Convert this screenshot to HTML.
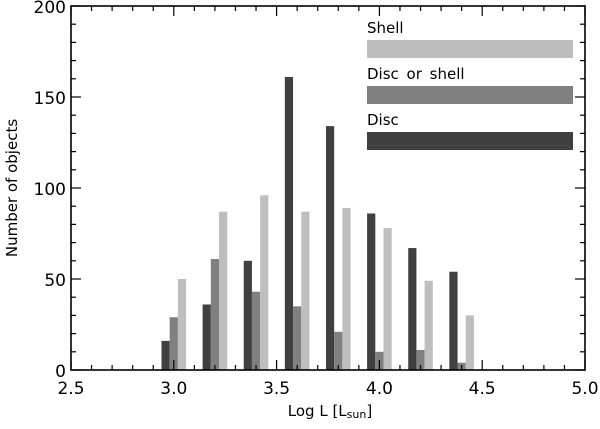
<!DOCTYPE html>
<html><head><meta charset="utf-8"><style>
body{margin:0;background:#fff;}
svg text{font-family:"DejaVu Sans","Liberation Sans",sans-serif;fill:#000;}
</style></head><body>
<svg id="chart" width="600" height="424" xmlns="http://www.w3.org/2000/svg"></svg>
<script>
const categories=[3.0,3.2,3.4,3.6,3.8,4.0,4.2,4.4];
const discValues=[16,36,60,161,134,86,67,54];
const discOrShellValues=[29,61,43,35,21,10,11,4];
const shellValues=[50,87,96,87,89,78,49,30];
const xTicks=["2.5","3.0","3.5","4.0","4.5","5.0"];
const yTicks=["0","50","100","150","200"];
const L=71,R=585,T=6,B=370;
const xs=v=>L+(v-2.5)/2.5*(R-L);
const ys=v=>B-v/200*(B-T);
const svg=document.getElementById('chart');
const NS='http://www.w3.org/2000/svg';
function mk(tag,attrs,parent){const e=document.createElementNS(NS,tag);for(const k in attrs)e.setAttribute(k,attrs[k]);(parent||svg).appendChild(e);return e;}
const bw=8.2;
const series=[[discValues,'#404040',-1,'disc'],[discOrShellValues,'#808080',0,'disc-or-shell'],[shellValues,'#bebebe',1,'shell']];
series.forEach(([vals,col,off,nm])=>{
  vals.forEach((v,i)=>{
    const cx=xs(categories[i])+off*bw;
    const r=mk('rect',{x:cx-bw/2,y:ys(v),width:bw,height:B-ys(v),fill:col});
    
    
  });
});
const f=mk('rect',{x:L,y:T,width:R-L,height:B-T,fill:'none',stroke:'#000','stroke-width':1.6});


for(let k=0;k<=25;k++){
  const v=2.5+k*0.1,x=xs(v),len=(k%5===0)?10:5;
  mk('line',{x1:x,y1:B,x2:x,y2:B-len,stroke:'#000','stroke-width':1.2});
  mk('line',{x1:x,y1:T,x2:x,y2:T+len,stroke:'#000','stroke-width':1.2});
}
xTicks.forEach(t=>{
  const e=mk('text',{x:xs(parseFloat(t)),y:B+24,'text-anchor':'middle','font-size':17});
  e.textContent=t;
  
  
});
for(let k=0;k<=20;k++){
  const v=k*10,y=ys(v),len=(k%5===0)?10:5;
  mk('line',{x1:L,y1:y,x2:L+len,y2:y,stroke:'#000','stroke-width':1.2});
  mk('line',{x1:R,y1:y,x2:R-len,y2:y,stroke:'#000','stroke-width':1.2});
}
yTicks.forEach(t=>{
  const e=mk('text',{x:L-5,y:ys(parseFloat(t))+7,'text-anchor':'end','font-size':17});
  e.textContent=t;
  
  
});
const xt=mk('text',{x:330,y:416,'text-anchor':'middle','font-size':15});
xt.innerHTML='Log L [L<tspan font-size="11" dy="2">sun</tspan><tspan dy="-2">]</tspan>';


const yt=mk('text',{x:17,y:188,'text-anchor':'middle','font-size':15,transform:'rotate(-90 17 188)'});
yt.textContent='Number of objects';


const leg=[['Shell','#bebebe',28,40],['Disc or shell','#808080',74,86],['Disc','#404040',120,132]];
leg.forEach(([lab,col,ty,by])=>{
  const t=mk('text',{x:367,y:ty+5,'font-size':15,'word-spacing':3});
  t.textContent=lab;
  
  
  const r=mk('rect',{x:367,y:by,width:206,height:18,fill:col});
  
  
});
</script>
</body></html>
